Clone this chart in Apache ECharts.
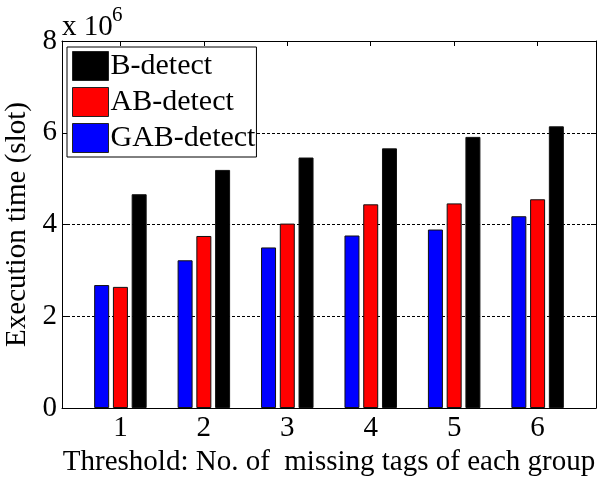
<!DOCTYPE html>
<html>
<head>
<meta charset="utf-8">
<script src="https://cdn.jsdelivr.net/npm/echarts@6/dist/echarts.min.js"></script>
<style>html,body{margin:0;padding:0;background:#fff}#c{width:605px;height:477px}</style>
</head>
<body>
<div id="c"></div>
<script>
// Data (values in units of 10^6 slots)
const categories = [1, 2, 3, 4, 5, 6];
const gabDetect = [2.68, 3.22, 3.50, 3.76, 3.89, 4.18];
const abDetect  = [2.64, 3.75, 4.02, 4.44, 4.46, 4.55];
const bDetect   = [4.66, 5.19, 5.46, 5.66, 5.91, 6.14];
const yTicks = [0, 2, 4, 6, 8];

const FONT = 'Liberation Serif';
const FS = 29;
const chart = echarts.init(document.getElementById('c'), null, {renderer: 'canvas'});
const pair = arr => arr.map((v, i) => [categories[i], v]);
const barStyle = c => ({color: c, borderColor: '#111', borderWidth: 1});

const xBase = {
  type: 'value', min: 0.3, max: 6.7,
  axisLine: {show: true, onZero: false, lineStyle: {color: '#000', width: 1}},
  axisTick: {show: true, inside: true, length: 5, customValues: categories, lineStyle: {color: '#000'}},
  splitLine: {show: false}
};
const yBase = {
  type: 'value', min: 0, max: 8, interval: 2,
  axisLine: {show: true, lineStyle: {color: '#000', width: 1}},
  axisTick: {show: true, inside: true, length: 5, lineStyle: {color: '#000'}},
};

chart.setOption({
  animation: false,
  backgroundColor: '#fff',
  grid: {left: 62, top: 41, right: 9, bottom: 69, containLabel: false, outerBoundsMode: 'none'},
  legend: {
    data: ['B-detect', 'AB-detect', 'GAB-detect'],
    orient: 'vertical', left: 67, top: 47,
    backgroundColor: '#fff', borderColor: '#000', borderWidth: 1,
    padding: [4, 1, 4, 5],
    itemWidth: 36, itemHeight: 29, itemGap: 6,
    icon: 'rect',
    itemStyle: {borderColor: '#222', borderWidth: 1},
    textStyle: {fontFamily: FONT, fontSize: 30, color: '#000', padding: [0, 0, 0, -3]}
  },
  xAxis: [
    Object.assign({}, xBase, {
      position: 'bottom',
      name: 'Threshold: No. of  missing tags of each group',
      nameLocation: 'middle', nameGap: 35,
      nameTextStyle: {fontFamily: FONT, fontSize: FS, color: '#000'},
      axisLabel: {show: true, customValues: categories, margin: 6, fontFamily: FONT, fontSize: FS, color: '#000'}
    }),
    Object.assign({}, xBase, {position: 'top', axisLabel: {show: false}})
  ],
  yAxis: [
    Object.assign({}, yBase, {
      position: 'left',
      name: 'Execution time (slot)',
      nameLocation: 'middle', nameGap: 26,
      nameTextStyle: {fontFamily: FONT, fontSize: FS, color: '#000'},
      axisLabel: {show: true, margin: 5, fontFamily: FONT, fontSize: FS, color: '#000',
        formatter: v => yTicks.includes(v) ? String(v) : ''},
      splitLine: {show: true, lineStyle: {color: '#000', width: 1, type: [3, 2]}}
    }),
    Object.assign({}, yBase, {position: 'right', axisLabel: {show: false}, splitLine: {show: false}})
  ],
  graphic: [
    {type: 'text', left: 62, top: 13, style: {text: 'x 10', fontFamily: FONT, fontSize: FS, fill: '#000'}},
    {type: 'text', left: 112, top: 5, style: {text: '6', fontFamily: FONT, fontSize: 21, fill: '#000'}}
  ],
  series: [
    {name: 'GAB-detect', type: 'bar', data: pair(gabDetect), barWidth: 15, barGap: '25%', itemStyle: barStyle('#0000ff')},
    {name: 'AB-detect', type: 'bar', data: pair(abDetect), barWidth: 15, barGap: '25%', itemStyle: barStyle('#ff0000')},
    {name: 'B-detect', type: 'bar', data: pair(bDetect), barWidth: 15, barGap: '25%', itemStyle: barStyle('#000000')}
  ]
});
</script>
</body>
</html>
